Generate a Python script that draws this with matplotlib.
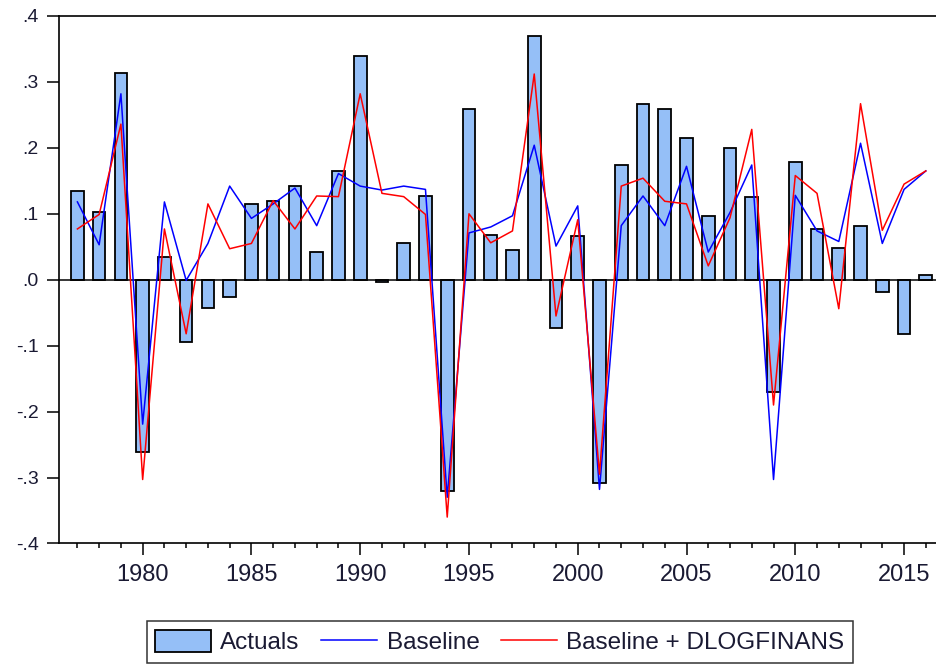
import numpy as np
import matplotlib
matplotlib.use("Agg")
import matplotlib.pyplot as plt
from matplotlib.ticker import MultipleLocator, FixedLocator

# ==========================================
# DATA
# ==========================================
years = list(range(1977, 2017))

actuals = [0.135, 0.103, 0.314, -0.261, 0.034, -0.094, -0.043, -0.026, 0.115, 0.119,
           0.142, 0.042, 0.165, 0.340, -0.003, 0.056, 0.127, -0.320, 0.259, 0.068,
           0.045, 0.370, -0.073, 0.066, -0.308, 0.174, 0.267, 0.259, 0.215, 0.097,
           0.200, 0.125, -0.170, 0.179, 0.077, 0.048, 0.082, -0.018, -0.082, 0.007]

baseline = [0.118, 0.053, 0.282, -0.219, 0.118, -0.001, 0.055, 0.142, 0.093, 0.115,
            0.139, 0.082, 0.161, 0.142, 0.136, 0.142, 0.137, -0.330, 0.071, 0.080,
            0.097, 0.204, 0.051, 0.112, -0.318, 0.082, 0.127, 0.082, 0.172, 0.042,
            0.102, 0.174, -0.303, 0.128, 0.074, 0.058, 0.207, 0.055, 0.137, 0.165]

baseline_fin = [0.077, 0.099, 0.236, -0.303, 0.077, -0.082, 0.115, 0.047, 0.055, 0.120,
                0.077, 0.127, 0.126, 0.282, 0.131, 0.126, 0.099, -0.360, 0.100, 0.056,
                0.074, 0.312, -0.055, 0.091, -0.295, 0.142, 0.154, 0.119, 0.115, 0.021,
                0.094, 0.228, -0.190, 0.158, 0.131, -0.044, 0.267, 0.075, 0.145, 0.165]

y_ticks = [-0.4, -0.3, -0.2, -0.1, 0.0, 0.1, 0.2, 0.3, 0.4]
y_tick_labels = ['-.4', '-.3', '-.2', '-.1', '.0', '.1', '.2', '.3', '.4']
x_major = [1980, 1985, 1990, 1995, 2000, 2005, 2010, 2015]

# ==========================================
# STYLE
# ==========================================
plt.rcParams['font.family'] = ['Liberation Sans', 'DejaVu Sans']
TEXT_COLOR = '#1a1a33'
BAR_COLOR = '#95bff7'

fig = plt.figure(figsize=(9.36, 6.66), dpi=100)
ax = fig.add_axes([0.0634, 0.184, 0.945, 0.792])

bars = ax.bar(years, actuals, width=0.58, color=BAR_COLOR, edgecolor='black',
              linewidth=1.3, label='Actuals', zorder=2)
ax.axhline(0, color='black', linewidth=1.1, zorder=3)
line_base, = ax.plot(years, baseline, color='#0000ff', linewidth=1.1,
                     label='Baseline', zorder=4)
line_fin, = ax.plot(years, baseline_fin, color='#ff0000', linewidth=1.1,
                    label='Baseline + DLOGFINANS', zorder=5)

ax.set_xlim(1976.17, 2016.83)
ax.set_ylim(-0.4, 0.4)

ax.set_yticks(y_ticks)
ax.set_yticklabels(y_tick_labels)
ax.xaxis.set_major_locator(FixedLocator(x_major))
ax.xaxis.set_minor_locator(MultipleLocator(1))

for side in ['left', 'top', 'bottom', 'right']:
    ax.spines[side].set_linewidth(1.2)

ax.tick_params(axis='y', direction='out', length=9, width=1.1, pad=6,
               labelsize=14, labelcolor=TEXT_COLOR, right=False)
ax.tick_params(axis='x', which='major', direction='out', length=8.6, width=1.1,
               pad=6.5, labelsize=17, labelcolor=TEXT_COLOR, top=False)
ax.tick_params(axis='x', which='minor', direction='out', length=3.8, width=1.1,
               top=False)

leg = fig.legend([bars, line_base, line_fin],
                 ['Actuals', 'Baseline', 'Baseline + DLOGFINANS'],
                 loc='center', bbox_to_anchor=(0.534, 0.036), ncol=3,
                 fontsize=17.5, frameon=True, fancybox=False, edgecolor='black',
                 handlelength=2.3, handleheight=1.05, handletextpad=0.38,
                 columnspacing=0.9, borderpad=0.35, labelcolor=TEXT_COLOR)
leg.get_frame().set_linewidth(1.1)

fig.savefig('out.png', dpi=100)
